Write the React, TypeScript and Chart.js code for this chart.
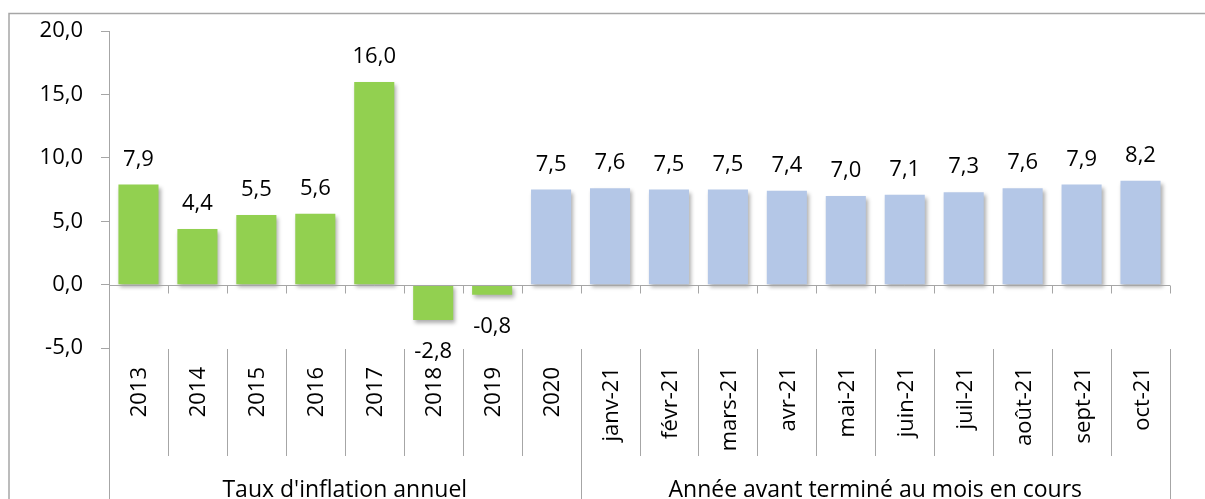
import { useEffect, useRef } from "react";
import { Chart, registerables } from "chart.js";

Chart.register(...registerables);

const categories = [
  "2013", "2014", "2015", "2016", "2017", "2018", "2019", "2020",
  "janv-21", "févr-21", "mars-21", "avr-21", "mai-21", "juin-21",
  "juil-21", "août-21", "sept-21", "oct-21",
];
const inflationValues = [
  7.9, 4.4, 5.5, 5.6, 16.0, -2.8, -0.8, 7.5,
  7.6, 7.5, 7.5, 7.4, 7.0, 7.1, 7.3, 7.6, 7.9, 8.2,
];
const greenBarCount = 7;
const groupLabels = ["Taux d'inflation annuel", "Année avant terminé au mois en cours"];
const groupSizes = [8, 10];
const yTicks = [-5, 0, 5, 10, 15, 20];

const FONT = '"Open Sans", sans-serif';
const AXIS = "#a6a6a6";
const GREEN = "#92D050";
const BLUE = "#B4C7E7";

const fmt = (v: number) => v.toFixed(1).replace(".", ",");

const overlay = {
  id: "overlay",
  beforeDatasetsDraw(chart: any) {
    const ctx = chart.ctx;
    ctx.save();
    ctx.shadowColor = "rgba(0,0,0,0.32)";
    ctx.shadowBlur = 4;
    ctx.shadowOffsetX = 2;
    ctx.shadowOffsetY = 3;
  },
  afterDatasetsDraw(chart: any) {
    const ctx = chart.ctx;
    ctx.restore();
    const { left, right } = chart.chartArea;
    const y = chart.scales.y;
    const n = categories.length;
    const w = (right - left) / n;
    const y0 = Math.round(y.getPixelForValue(0)) + 0.5;
    ctx.save();
    ctx.strokeStyle = AXIS;
    ctx.lineWidth = 1;
    ctx.beginPath();
    ctx.moveTo(left, y0);
    ctx.lineTo(right, y0);
    for (let i = 1; i <= n; i++) {
      const x = Math.round(left + i * w) + 0.5;
      ctx.moveTo(x, y0);
      ctx.lineTo(x, y0 + 8);
    }
    ctx.stroke();

    // data labels
    const meta = chart.getDatasetMeta(0);
    ctx.fillStyle = "#000";
    ctx.font = `22px ${FONT}`;
    ctx.textAlign = "center";
    ctx.textBaseline = "alphabetic";
    meta.data.forEach((el: any, i: number) => {
      const v = inflationValues[i];
      const py = y.getPixelForValue(v);
      if (v >= 0) ctx.fillText(fmt(v), el.x, py - 19);
      else ctx.fillText(fmt(v), el.x, py + 38);
    });
    ctx.restore();
  },
  afterDraw(chart: any) {
    const ctx = chart.ctx;
    const { left, right, bottom } = chart.chartArea;
    const xs = chart.scales.x;
    const n = categories.length;
    const w = (right - left) / n;
    const H = chart.height;
    ctx.save();
    // outer frame
    ctx.strokeStyle = AXIS;
    ctx.lineWidth = 1.5;
    ctx.beginPath();
    ctx.moveTo(9, H);
    ctx.lineTo(9, 13.5);
    ctx.lineTo(chart.width, 13.5);
    ctx.stroke();

    ctx.lineWidth = 1;
    ctx.beginPath();
    const lx = Math.round(left) + 0.5;
    ctx.moveTo(lx, bottom);
    ctx.lineTo(lx, H);
    const groupEdges = new Set<number>();
    let acc = 0;
    groupSizes.forEach((s) => {
      acc += s;
      groupEdges.add(acc);
    });
    for (let i = 1; i <= n; i++) {
      const x = Math.round(left + i * w) + 0.5;
      ctx.moveTo(x, 349);
      ctx.lineTo(x, groupEdges.has(i) ? H : 456);
    }
    ctx.stroke();

    // rotated category labels
    ctx.fillStyle = "#000";
    ctx.font = `22px ${FONT}`;
    ctx.textAlign = "right";
    ctx.textBaseline = "alphabetic";
    categories.forEach((c, i) => {
      const x = xs.getPixelForValue(i);
      ctx.save();
      ctx.translate(x + 8, 367);
      ctx.rotate(-Math.PI / 2);
      ctx.fillText(c, 0, 0);
      ctx.restore();
    });

    // group labels
    ctx.font = `23px ${FONT}`;
    ctx.textAlign = "center";
    let start = 0;
    groupLabels.forEach((g, gi) => {
      const cx = left + (start + groupSizes[gi] / 2) * w;
      ctx.fillText(g, cx, 497);
      start += groupSizes[gi];
    });
    ctx.restore();
  },
};

export default function App() {
  const ref = useRef<HTMLCanvasElement | null>(null);
  useEffect(() => {
    if (!ref.current) return;
    const chart = new Chart(ref.current, {
      type: "bar",
      data: {
        labels: categories,
        datasets: [
          {
            data: inflationValues,
            backgroundColor: inflationValues.map((_, i) => (i < greenBarCount ? GREEN : BLUE)),
            borderWidth: 0,
            barPercentage: 0.68,
            categoryPercentage: 1.0,
          },
        ],
      },
      options: {
        animation: false,
        responsive: false,
        devicePixelRatio: 1,
        layout: { padding: { left: 0, top: 29, right: 35, bottom: 151 } },
        plugins: { legend: { display: false }, tooltip: { enabled: false } },
        scales: {
          x: { type: "category", display: false, offset: true },
          y: {
            min: -5,
            max: 20,
            afterBuildTicks: (scale: any) => {
              scale.ticks = yTicks.map((v) => ({ value: v }));
            },
            afterFit: (scale: any) => {
              scale.width = 109;
            },
            ticks: {
              callback: (v: any) => fmt(Number(v)),
              font: { family: FONT, size: 22 },
              color: "#000",
              padding: 18,
            },
            grid: { drawOnChartArea: false, drawTicks: true, tickLength: 8, color: AXIS },
            border: { color: AXIS },
          },
        },
      },
      plugins: [overlay],
    });
    return () => chart.destroy();
  }, []);
  return (
    <canvas
      ref={ref}
      width={1205}
      height={499}
      style={{ position: "absolute", left: 0, top: 0, width: 1205, height: 499 }}
    />
  );
}
